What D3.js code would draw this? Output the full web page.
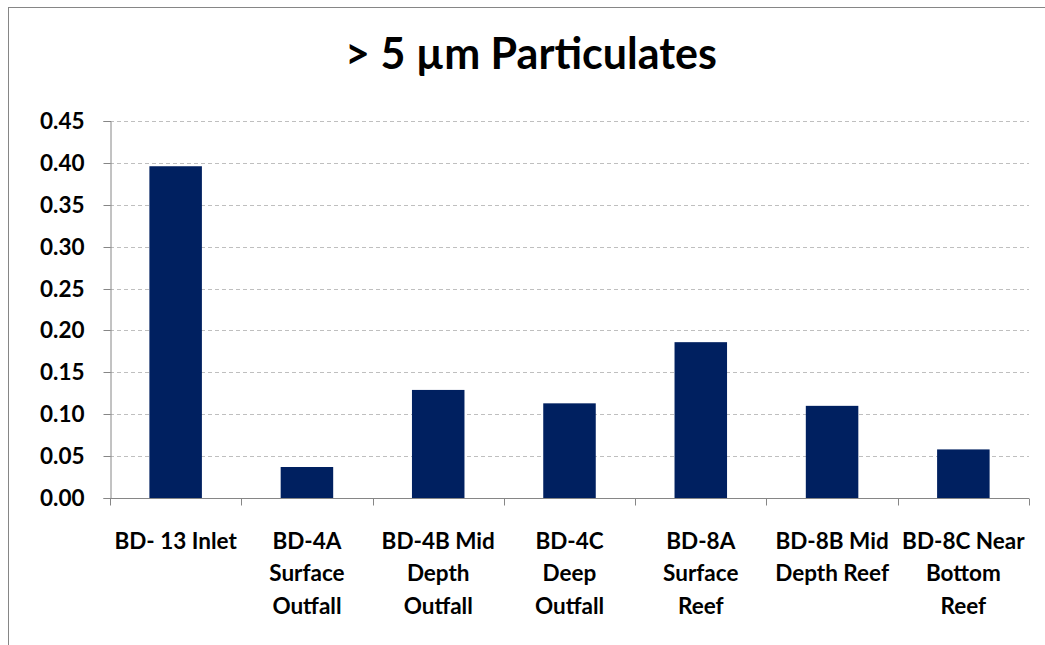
<!DOCTYPE html>
<html><head><meta charset="utf-8">
<script src="https://cdn.jsdelivr.net/npm/d3@7"></script>
<style>
html,body{margin:0;padding:0;background:#fff;}
svg{display:block;}
text{font-family:Lato,"Liberation Sans",sans-serif;font-weight:bold;fill:#000;}
</style></head>
<body>
<svg id="c" width="1045" height="645"></svg>
<script>
const categories = ["BD- 13 Inlet","BD-4A Surface Outfall","BD-4B Mid Depth Outfall","BD-4C Deep Outfall","BD-8A Surface Reef","BD-8B Mid Depth Reef","BD-8C Near Bottom Reef"];
const categoryLines = [["BD- 13 Inlet"],["BD-4A","Surface","Outfall"],["BD-4B Mid","Depth","Outfall"],["BD-4C","Deep","Outfall"],["BD-8A","Surface","Reef"],["BD-8B Mid","Depth Reef"],["BD-8C Near","Bottom","Reef"]];
const values = [0.396,0.037,0.129,0.113,0.186,0.110,0.058];
const yTicks = [0,0.05,0.10,0.15,0.20,0.25,0.30,0.35,0.40,0.45];
const title = "> 5 µm Particulates";

const svg = d3.select("#c");
// outer chart border
svg.append("rect").attr("x",8.5).attr("y",7.5).attr("width",1100).attr("height",700)
  .attr("fill","none").attr("stroke","#868686").attr("stroke-width",1);

const L=110, R=1029, T=121, B=498;
const x = d3.scaleBand().domain(categories).range([L,R]).paddingInner(0.6).paddingOuter(0.3);
const xb = d3.scaleBand().domain(categories).range([L,R]);
const y = d3.scaleLinear().domain([0,0.45]).range([B,T]);

// grid
svg.append("g").selectAll("line").data(yTicks.filter(d=>d>0)).join("line")
  .attr("x1",L).attr("x2",R).attr("y1",d=>Math.round(y(d))+0.5).attr("y2",d=>Math.round(y(d))+0.5)
  .attr("stroke","#bfbfbf").attr("stroke-dasharray","4,3");

// bars
svg.append("g").selectAll("rect").data(values).join("rect")
  .attr("x",(d,i)=>x(categories[i])).attr("width",x.bandwidth())
  .attr("y",d=>y(d)).attr("height",d=>B-y(d)).attr("fill","#002060");

// y axis
const ya = svg.append("g").attr("transform",`translate(${L+0.5},0)`)
  .call(d3.axisLeft(y).tickValues(yTicks).tickFormat(d3.format(".2f")).tickSize(7).tickPadding(19));
ya.select(".domain").attr("stroke","#868686");
ya.selectAll(".tick line").attr("stroke","#868686");
ya.selectAll(".tick").attr("transform",d=>`translate(0,${Math.round(y(d))+0.5})`);
ya.selectAll("text").style("font-size","22.5px").style("font-family","Lato,sans-serif").style("font-weight","bold").attr("fill","#000");

// x axis
const xa = svg.append("g").attr("transform",`translate(0,${B+0.5})`);
xa.append("line").attr("x1",L).attr("x2",R).attr("stroke","#868686");
const bounds = categories.map(c=>xb(c)).concat([R]);
xa.selectAll("line.tk").data(bounds).join("line").attr("class","tk")
  .attr("x1",d=>Math.round(d)+0.5).attr("x2",d=>Math.round(d)+0.5).attr("y1",0).attr("y2",7)
  .attr("stroke","#868686");
const lbl = xa.selectAll("text.cat").data(categories).join("text").attr("class","cat")
  .attr("text-anchor","middle").style("font-size","22.5px")
  .attr("transform",c=>`translate(${xb(c)+xb.bandwidth()/2},0)`);
lbl.each(function(c,i){
  const t=d3.select(this);
  categoryLines[i].forEach((ln,j)=>t.append("tspan").attr("x",0).attr("y",50+j*32.5).text(ln));
});

// title
svg.append("text").attr("x",531).attr("y",69).attr("text-anchor","middle")
  .style("font-size","43px").text(title);
</script>
</body></html>
